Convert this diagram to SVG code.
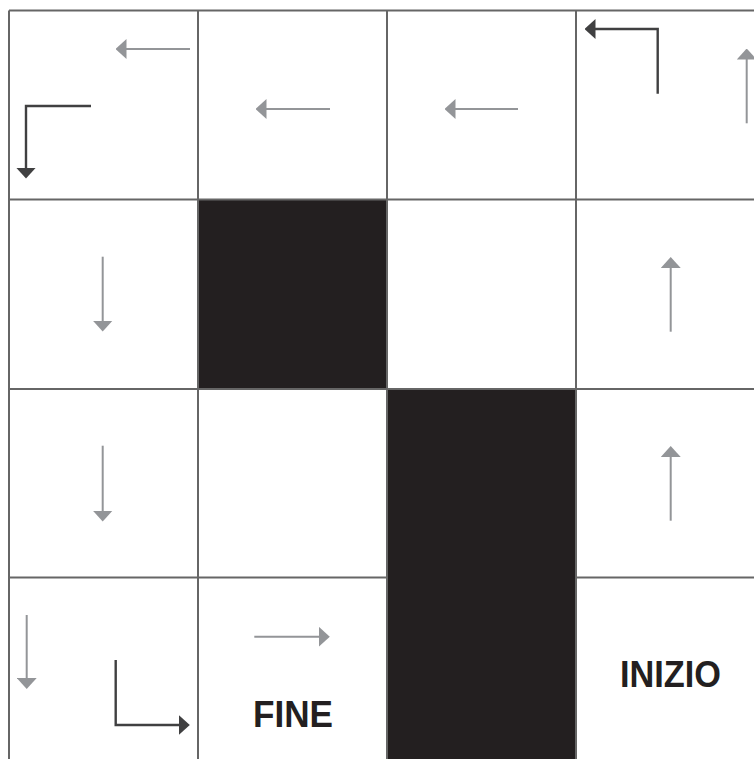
<svg xmlns="http://www.w3.org/2000/svg" width="754" height="759" viewBox="0 0 754 759">
<style>
.blk{fill:#231f20}
.grid{stroke:#666666;stroke-width:2;fill:none}
.ga{stroke:#939598;stroke-width:2;fill:none;marker-end:url(#hg)}
.da{stroke:#404041;stroke-width:2.4;fill:none;marker-end:url(#hd)}
.lbl{font-family:"Liberation Sans",Arial,sans-serif;font-weight:bold;font-size:36px;fill:#231f20;text-anchor:middle}
</style>
<defs>
<marker id="hg" viewBox="0 0 11 20" refX="0.5" refY="10" markerWidth="11" markerHeight="20" markerUnits="userSpaceOnUse" orient="auto">
<path d="M0,0 L11,10 L0,20 Z" fill="#939598"/>
</marker>
<marker id="hd" viewBox="0 0 11 20" refX="0.5" refY="10" markerWidth="11" markerHeight="20" markerUnits="userSpaceOnUse" orient="auto">
<path d="M0,0 L11,10 L0,20 Z" fill="#404041"/>
</marker>
</defs>
<rect width="754" height="759" fill="#ffffff"/>
<g id="cells">
<g id="cell-r0c0"><rect x="9" y="10.5" width="189" height="189" fill="#fff"/></g>
<g id="cell-r0c1"><rect x="198" y="10.5" width="189" height="189" fill="#fff"/></g>
<g id="cell-r0c2"><rect x="387" y="10.5" width="189" height="189" fill="#fff"/></g>
<g id="cell-r0c3"><rect x="576" y="10.5" width="178" height="189" fill="#fff"/></g>
<g id="cell-r1c1-blocked"><rect class="blk" x="198" y="199.5" width="189" height="189.5"/></g>
<g id="cell-r2c2-blocked"><rect class="blk" x="387" y="389" width="189" height="370"/></g>
<g id="cell-r3c1-fine"><text class="lbl" x="293" y="726.5" textLength="80" lengthAdjust="spacingAndGlyphs">FINE</text></g>
<g id="cell-r3c3-inizio"><text class="lbl" x="670.5" y="686.5" textLength="101" lengthAdjust="spacingAndGlyphs">INIZIO</text></g>
</g>
<g id="grid">
<path class="grid" d="M9,10.5 H754 M9,199.5 H754 M9,389 H754 M9,577.5 H387 M576,577.5 H754"/>
<path class="grid" d="M9,10.5 V759 M198,10.5 V759 M387,10.5 V759 M576,10.5 V759"/>
</g>
<g id="connectors">
<path class="ga" d="M190,49 H126"/>
<path class="ga" d="M330,109 H266"/>
<path class="ga" d="M518,109 H455"/>
<path class="da" d="M657.7,93.7 V29 H595"/>
<path class="ga" d="M746.7,123.3 V59"/>
<path class="da" d="M91,106 H26 V168"/>
<path class="ga" d="M102.7,256.7 V321"/>
<path class="ga" d="M670.7,331.7 V267.5"/>
<path class="ga" d="M102.7,445.7 V511"/>
<path class="ga" d="M670.7,520.7 V456.5"/>
<path class="ga" d="M26.7,615 V678.5"/>
<path class="da" d="M115.7,660 V725 H179.3"/>
<path class="ga" d="M254.3,636.7 H319.3"/>
</g>
</svg>
